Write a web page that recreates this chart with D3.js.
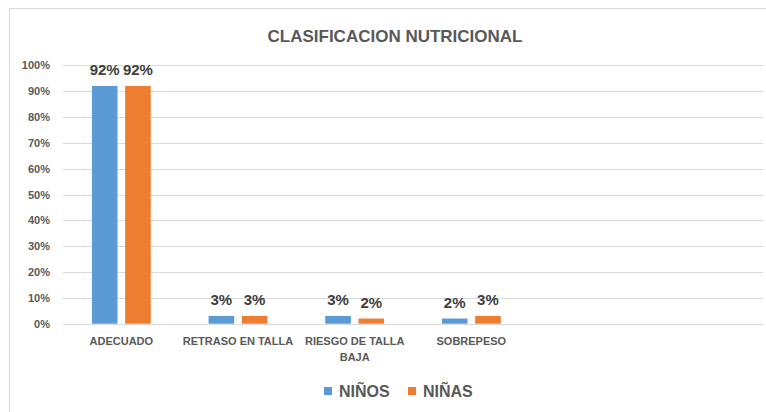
<!DOCTYPE html>
<html>
<head>
<meta charset="utf-8">
<script src="https://cdn.jsdelivr.net/npm/d3@7"></script>
<style>
  html, body { margin: 0; padding: 0; background: #fff; }
  svg { display: block; font-family: "Liberation Sans", Arial, sans-serif; }
</style>
</head>
<body>
<svg id="chart" width="766" height="412"></svg>
<script>
const title = "CLASIFICACION NUTRICIONAL";
const categories = ["ADECUADO", "RETRASO EN TALLA", "RIESGO DE TALLA BAJA", "SOBREPESO", "", " "];
const seriesNames = ["NIÑOS", "NIÑAS"];
const ninos = [0.92, 0.03, 0.03, 0.02, null, null];
const ninas = [0.92, 0.03, 0.02, 0.03, null, null];
const yTicks = [0, 0.1, 0.2, 0.3, 0.4, 0.5, 0.6, 0.7, 0.8, 0.9, 1.0];
const colors = ["#5B9BD5", "#ED7D31"];

const svg = d3.select("#chart");

// chart frame
svg.append("rect").attr("x", 9.5).attr("y", 8.5).attr("width", 820).attr("height", 500)
  .attr("fill", "#fff").attr("stroke", "#d9d9d9").attr("stroke-width", 1);

const plotL = 63, plotR = 763, plotT = 65.3, plotB = 323.7;

const x0 = d3.scaleBand().domain(categories).range([plotL, plotR]).padding(0);
const x1 = d3.scaleBand().domain(seriesNames).range([0, x0.bandwidth()])
  .paddingInner(0.23).paddingOuter(0.87);
const y = d3.scaleLinear().domain([0, 1]).range([plotB, plotT]);

// gridlines
svg.append("g").selectAll("line").data(yTicks).join("line")
  .attr("x1", plotL).attr("x2", plotR)
  .attr("y1", d => Math.round(y(d)) + 0.5).attr("y2", d => Math.round(y(d)) + 0.5)
  .attr("stroke", "#d9d9d9").attr("stroke-width", 1);

// y axis labels
const yAxis = d3.axisLeft(y).tickValues(yTicks).tickFormat(d3.format(".0%")).tickSize(0).tickPadding(0);
const yg = svg.append("g").attr("transform", `translate(50,0)`).call(yAxis);
yg.select(".domain").remove();
yg.selectAll("text").attr("fill", "#595959").attr("font-size", "11px").attr("font-weight", "bold")
  .attr("font-family", "'Liberation Sans', Arial, sans-serif");

// bars
const data = categories.map((c, i) => ({ c, vals: [ninos[i], ninas[i]] }));
const groups = svg.append("g").selectAll("g").data(data).join("g")
  .attr("transform", d => `translate(${x0(d.c)},0)`);

groups.selectAll("rect").data(d => d.vals.map((v, j) => ({ s: seriesNames[j], v, j })).filter(e => e.v != null))
  .join("rect")
  .attr("x", e => x1(e.s)).attr("width", x1.bandwidth())
  .attr("y", e => y(e.v)).attr("height", e => y(0) - y(e.v))
  .attr("fill", e => colors[e.j]);

groups.selectAll("text.lbl").data(d => d.vals.map((v, j) => ({ s: seriesNames[j], v, j })).filter(e => e.v != null))
  .join("text").attr("class", "lbl")
  .attr("x", e => x1(e.s) + x1.bandwidth() / 2)
  .attr("y", e => y(e.v) - 11)
  .attr("text-anchor", "middle")
  .attr("font-size", "15px").attr("font-weight", "bold").attr("fill", "#404040")
  .text(e => d3.format(".0%")(e.v));

// x axis labels with wrapping
const xAxis = d3.axisBottom(x0).tickSize(0).tickPadding(0);
const xg = svg.append("g").attr("transform", `translate(0,${plotB})`).call(xAxis);
xg.select(".domain").remove();
xg.selectAll("text").attr("fill", "#595959").attr("font-size", "11px").attr("font-weight", "bold")
  .attr("font-family", "'Liberation Sans', Arial, sans-serif")
  .attr("dy", null).attr("y", 21)
  .each(function() {
    const t = d3.select(this);
    const words = t.text().split(/\s+/).filter(w => w);
    const maxW = x0.bandwidth() - 4;
    t.text(null);
    let line = [], lineNo = 0;
    let ts = t.append("tspan").attr("x", 0).attr("y", 21);
    words.forEach(w => {
      line.push(w);
      ts.text(line.join(" "));
      if (ts.node().getComputedTextLength() > maxW && line.length > 1) {
        line.pop();
        ts.text(line.join(" "));
        line = [w];
        lineNo++;
        ts = t.append("tspan").attr("x", 0).attr("y", 21 + lineNo * 16).text(w);
      }
    });
  });

// title
svg.append("text").attr("x", 395).attr("y", 41.5).attr("text-anchor", "middle")
  .attr("font-size", "17px").attr("font-weight", "bold").attr("fill", "#595959")
  .text(title);

// legend
const legendItems = [{ name: seriesNames[0], x: 324 }, { name: seriesNames[1], x: 408 }];
const lg = svg.append("g").selectAll("g").data(legendItems).join("g")
  .attr("transform", d => `translate(${d.x},387)`);
lg.append("rect").attr("width", 8).attr("height", 8).attr("fill", (d, i) => colors[i]);
lg.append("text").attr("x", 15).attr("y", 10).attr("font-size", "16px").attr("font-weight", "bold")
  .attr("fill", "#595959").text(d => d.name);
</script>
</body>
</html>
